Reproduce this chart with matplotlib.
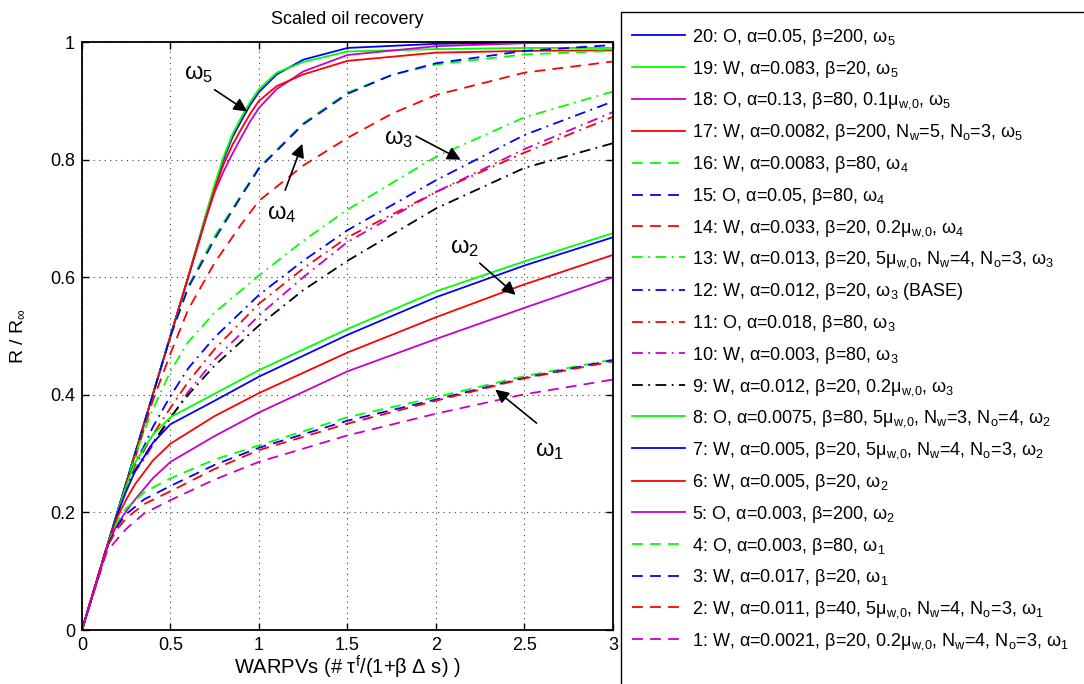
import matplotlib
matplotlib.use("Agg")
import matplotlib.pyplot as plt
from matplotlib.patches import Rectangle

plt.rcParams.update({
    "font.family": ["Liberation Sans", "DejaVu Sans"],
    "mathtext.fontset": "custom",
    "mathtext.rm": "Liberation Sans",
    "mathtext.it": "Liberation Sans",
    "mathtext.bf": "Liberation Sans:bold",
    "mathtext.default": "regular",
    "font.size": 13,
})

# ---- data (x in WARPVs, y in R/R_inf) ---------------------------------------
# omega_1 group (dashed)
x_w1 = [0, 0.14, 0.2, 0.25, 0.35, 0.5, 0.75, 1.0, 1.5, 2.0, 2.5, 3.0]
y4 = [0, 0.142, 0.185, 0.207, 0.234, 0.258, 0.290, 0.314, 0.362, 0.396, 0.432, 0.460]
y3 = [0, 0.142, 0.177, 0.197, 0.222, 0.245, 0.281, 0.310, 0.356, 0.392, 0.429, 0.459]
y2 = [0, 0.141, 0.172, 0.190, 0.214, 0.236, 0.274, 0.306, 0.351, 0.390, 0.428, 0.457]
y1 = [0, 0.133, 0.155, 0.172, 0.198, 0.221, 0.256, 0.286, 0.331, 0.368, 0.401, 0.426]

# omega_2 group (solid)
x_w2 = [0, 0.15, 0.2, 0.25, 0.3, 0.4, 0.5, 0.75, 1.0, 1.5, 2.0, 2.5, 3.0]
y8 = [0, 0.15, 0.2, 0.245, 0.285, 0.332, 0.362, 0.402, 0.442, 0.512, 0.576, 0.627, 0.675]
y7 = [0, 0.15, 0.198, 0.236, 0.270, 0.318, 0.350, 0.390, 0.431, 0.502, 0.566, 0.620, 0.668]
y6 = [0, 0.15, 0.192, 0.222, 0.248, 0.288, 0.317, 0.364, 0.403, 0.472, 0.532, 0.588, 0.638]
y5 = [0, 0.148, 0.180, 0.202, 0.222, 0.258, 0.286, 0.330, 0.370, 0.440, 0.495, 0.548, 0.600]

# omega_3 group (dash-dot)
x_w3 = [0, 0.25, 0.3, 0.35, 0.4, 0.5, 0.6, 0.75, 1.0, 1.25, 1.5, 2.0, 2.5, 3.0]
y13 = [0, 0.25, 0.295, 0.338, 0.375, 0.440, 0.490, 0.540, 0.603, 0.662, 0.715, 0.805, 0.872, 0.916]
y12 = [0, 0.25, 0.285, 0.312, 0.345, 0.398, 0.445, 0.498, 0.570, 0.628, 0.680, 0.765, 0.842, 0.899]
y11 = [0, 0.248, 0.280, 0.305, 0.332, 0.378, 0.422, 0.478, 0.555, 0.615, 0.668, 0.745, 0.812, 0.873]
y10 = [0, 0.245, 0.270, 0.290, 0.315, 0.360, 0.405, 0.460, 0.535, 0.600, 0.660, 0.745, 0.818, 0.881]
y9 = [0, 0.245, 0.272, 0.295, 0.318, 0.362, 0.400, 0.450, 0.518, 0.578, 0.628, 0.717, 0.786, 0.828]

# omega_4 group (dashed)
x_w4 = [0, 0.4, 0.5, 0.6, 0.75, 0.9, 1.0, 1.25, 1.5, 1.75, 2.0, 2.5, 3.0]
y16 = [0, 0.4, 0.5, 0.585, 0.670, 0.740, 0.787, 0.862, 0.914, 0.944, 0.962, 0.979, 0.985]
y15 = [0, 0.4, 0.5, 0.582, 0.665, 0.738, 0.785, 0.860, 0.912, 0.944, 0.964, 0.985, 0.995]
y14 = [0, 0.39, 0.47, 0.545, 0.625, 0.690, 0.730, 0.790, 0.837, 0.878, 0.910, 0.948, 0.967]

# omega_5 group (solid)
x_w5 = [0, 0.6, 0.7, 0.75, 0.8, 0.85, 0.9, 0.95, 1.0, 1.1, 1.25, 1.5, 2.0, 2.5, 3.0]
y20 = [0, 0.6, 0.705, 0.755, 0.800, 0.838, 0.866, 0.893, 0.915, 0.945, 0.970, 0.990, 0.997, 0.999, 1.0]
y19 = [0, 0.6, 0.707, 0.758, 0.805, 0.843, 0.872, 0.898, 0.920, 0.948, 0.966, 0.984, 0.988, 0.990, 0.990]
y18 = [0, 0.6, 0.700, 0.745, 0.780, 0.810, 0.838, 0.865, 0.888, 0.920, 0.950, 0.978, 0.993, 0.998, 1.0]
y17 = [0, 0.6, 0.700, 0.750, 0.792, 0.825, 0.852, 0.878, 0.900, 0.925, 0.945, 0.968, 0.982, 0.985, 0.986]

MU = r"$\mu_{w{,}0}$"
labels = {
    20: r"20: O, $\alpha$=0.05, $\beta$=200, $\omega_5$",
    19: r"19: W, $\alpha$=0.083, $\beta$=20, $\omega_5$",
    18: r"18: O, $\alpha$=0.13, $\beta$=80, 0.1" + MU + r", $\omega_5$",
    17: r"17: W, $\alpha$=0.0082, $\beta$=200, $N_w$=5, $N_o$=3, $\omega_5$",
    16: r"16: W, $\alpha$=0.0083, $\beta$=80, $\omega_4$",
    15: r"15: O, $\alpha$=0.05, $\beta$=80, $\omega_4$",
    14: r"14: W, $\alpha$=0.033, $\beta$=20, 0.2" + MU + r", $\omega_4$",
    13: r"13: W, $\alpha$=0.013, $\beta$=20, 5" + MU + r", $N_w$=4, $N_o$=3, $\omega_3$",
    12: r"12: W, $\alpha$=0.012, $\beta$=20, $\omega_3$ (BASE)",
    11: r"11: O, $\alpha$=0.018, $\beta$=80, $\omega_3$",
    10: r"10: W, $\alpha$=0.003, $\beta$=80, $\omega_3$",
    9: r"9: W, $\alpha$=0.012, $\beta$=20, 0.2" + MU + r", $\omega_3$",
    8: r"8: O, $\alpha$=0.0075, $\beta$=80, 5" + MU + r", $N_w$=3, $N_o$=4, $\omega_2$",
    7: r"7: W, $\alpha$=0.005, $\beta$=20, 5" + MU + r", $N_w$=4, $N_o$=3, $\omega_2$",
    6: r"6: W, $\alpha$=0.005, $\beta$=20, $\omega_2$",
    5: r"5: O, $\alpha$=0.003, $\beta$=200, $\omega_2$",
    4: r"4: O, $\alpha$=0.003, $\beta$=80, $\omega_1$",
    3: r"3: W, $\alpha$=0.017, $\beta$=20, $\omega_1$",
    2: r"2: W, $\alpha$=0.011, $\beta$=40, 5" + MU + r", $N_w$=4, $N_o$=3, $\omega_1$",
    1: r"1: W, $\alpha$=0.0021, $\beta$=20, 0.2" + MU + r", $N_w$=4, $N_o$=3, $\omega_1$",
}

# MATLAB-ish colours / line styles
B, G, R, M, K = "#0000FF", "#00FF00", "#FF0000", "#C800C8", "#000000"
SOLID, DASH, DASHDOT = "-", (0, (6, 4)), (0, (6, 3, 1, 3))

curves = [  # (id, x, y, colour, style) in legend order
    (20, x_w5, y20, B, SOLID), (19, x_w5, y19, G, SOLID),
    (18, x_w5, y18, M, SOLID), (17, x_w5, y17, R, SOLID),
    (16, x_w4, y16, G, DASH), (15, x_w4, y15, B, DASH),
    (14, x_w4, y14, R, DASH),
    (13, x_w3, y13, G, DASHDOT), (12, x_w3, y12, B, DASHDOT),
    (11, x_w3, y11, R, DASHDOT), (10, x_w3, y10, M, DASHDOT),
    (9, x_w3, y9, K, DASHDOT),
    (8, x_w2, y8, G, SOLID), (7, x_w2, y7, B, SOLID),
    (6, x_w2, y6, R, SOLID), (5, x_w2, y5, M, SOLID),
    (4, x_w1, y4, G, DASH), (3, x_w1, y3, B, DASH),
    (2, x_w1, y2, R, DASH), (1, x_w1, y1, M, DASH),
]

fig = plt.figure(figsize=(10.84, 6.84), dpi=100)
ax = fig.add_axes([0.0756, 0.0789, 0.4899, 0.8596])

handles = []
for cid, xs, ys, col, ls in curves:
    h, = ax.plot(xs, ys, color=col, linestyle=ls, lw=1.3, label=labels[cid])
    handles.append(h)

ax.set_xlim(0, 3)
ax.set_ylim(0, 1)
ax.set_xticks([0, 0.5, 1, 1.5, 2, 2.5, 3])
ax.set_xticklabels(["0", "0.5", "1", "1.5", "2", "2.5", "3"])
ax.set_yticks([0, 0.2, 0.4, 0.6, 0.8, 1])
ax.set_yticklabels(["0", "0.2", "0.4", "0.6", "0.8", "1"])
ax.tick_params(direction="in", top=True, right=True, length=5, width=1,
               labelsize=13, pad=5)
ax.grid(True, color="0.25", linestyle=(0, (1, 4)), linewidth=0.8)
for sp in ax.spines.values():
    sp.set_linewidth(1.3)

ax.set_title("Scaled oil recovery", fontsize=13, pad=13)
ax.set_xlabel(r"WARPVs (# $\tau^f$/(1+$\beta$ $\Delta$ s) )", fontsize=14.5,
              labelpad=0)
ax.set_ylabel(r"R / R$_\infty$", fontsize=14, labelpad=17)

# group annotations (text centre, arrow tail, arrow tip)
notes = [
    (r"$\omega_5$", (0.66, 0.945), (0.749, 0.919), (0.934, 0.882)),
    (r"$\omega_4$", (1.13, 0.708), (1.148, 0.748), (1.245, 0.827)),
    (r"$\omega_3$", (1.79, 0.835), (1.887, 0.84), (2.14, 0.80)),
    (r"$\omega_2$", (2.16, 0.650), (2.247, 0.624), (2.45, 0.57)),
    (r"$\omega_1$", (2.64, 0.305), (2.568, 0.352), (2.335, 0.409)),
]
for txt, tpos, tail, tip in notes:
    ax.text(*tpos, txt, fontsize=17, ha="center", va="center")
    ax.annotate("", xy=tip, xytext=tail,
                arrowprops=dict(arrowstyle="-|>", color="k", lw=1.2,
                                mutation_scale=20, shrinkA=0, shrinkB=0))

# legend box runs off the right and bottom edges, as in the original
fig.add_artist(Rectangle((0.5729, -0.1), 0.6, 1.0825, transform=fig.transFigure,
                         facecolor="white", edgecolor="k", lw=1.0, zorder=4))
leg = fig.legend(handles=handles, loc="upper left",
                 bbox_to_anchor=(0.573, 0.9767), borderaxespad=0,
                 fontsize=13, handlelength=2.95, handletextpad=0.35,
                 labelspacing=0.6, borderpad=0.6, frameon=False)
leg.set_zorder(5)

fig.savefig("out.png", dpi=100)
